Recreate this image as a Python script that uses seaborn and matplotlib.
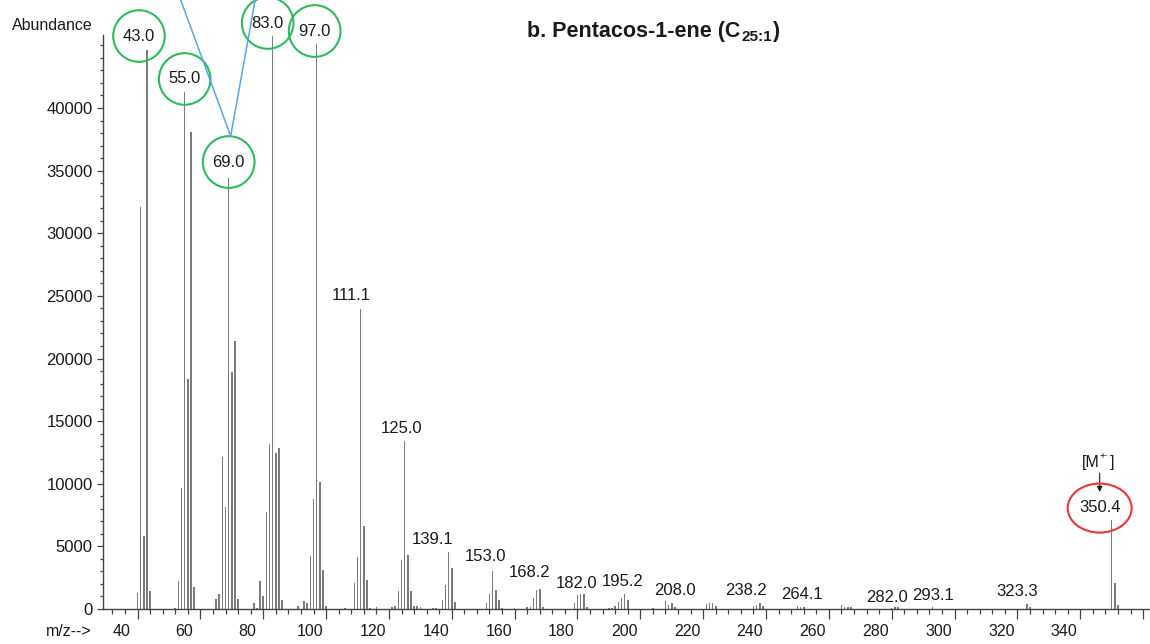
import numpy as np
import pandas as pd
import matplotlib
matplotlib.use("Agg")
import matplotlib.pyplot as plt
import seaborn as sns
from matplotlib.patches import Ellipse
from matplotlib.lines import Line2D
from matplotlib.transforms import IdentityTransform, ScaledTranslation, offset_copy

# peak list
mz = [40, 41, 42, 43, 44,
      52, 53, 54, 55, 56, 57, 58,
      65, 66, 67, 68, 69, 70, 71, 72,
      77, 78, 79, 80, 81, 82, 83, 84, 85, 86,
      91, 93, 94, 95, 96, 97, 98, 99, 100,
      106, 109, 110, 111, 112, 113, 114, 116,
      121, 122, 123, 124, 125, 126, 127, 128, 129, 130,
      134, 135, 137, 138, 139, 140, 141,
      151, 152, 153, 154, 155, 156,
      160, 164, 165, 166, 167, 168, 169,
      179, 180, 181, 182, 183,
      190, 191, 192, 193, 194, 195, 196,
      204, 208, 209, 210, 211,
      221, 222, 223, 224,
      236, 237, 238, 239,
      250, 251, 252,
      264, 265, 266, 267,
      280, 281, 282,
      293,
      323, 324,
      350, 351, 352]
abundance = [1280, 32100, 5840, 44630, 1440,
             80, 2200, 9700, 41280, 18400, 38080, 1790,
             830, 1230, 12100, 8160, 34410, 18960, 21360, 830,
             510, 80, 2260, 1040, 7760, 13200, 45750, 12450, 12850, 720,
             240, 620, 450, 4210, 8770, 45110, 10160, 3100, 240,
             100, 2070, 4150, 23950, 6600, 2350, 80, 150,
             150, 250, 1400, 3950, 13410, 4280, 1400, 250, 220, 150,
             100, 100, 680, 1950, 4590, 3250, 580,
             500, 1200, 3000, 1550, 700, 100,
             80, 150, 150, 850, 1500, 1600, 180,
             450, 1100, 1200, 1200, 160,
             80, 100, 250, 560, 880, 1200, 720,
             80, 600, 320, 500, 150,
             400, 500, 450, 200,
             250, 350, 500, 200,
             250, 150, 180,
             350, 150, 150, 120,
             100, 150, 120,
             150,
             380, 150,
             7100, 2100, 300]

peak_labels = ["43.0", "55.0", "69.0", "83.0", "97.0", "111.1", "125.0", "139.1",
               "153.0", "168.2", "182.0", "195.2", "208.0", "238.2", "264.1",
               "282.0", "293.1", "323.3", "350.4"]
circled = ["43.0", "55.0", "69.0", "83.0", "97.0"]
mol_ion = "350.4"

# label placement (pixels from the peak top)
label_dx = [-8, 0, 0, -5, -2, -9, -3, -16, -7, -10, -7, -2, 9, -14, -39, -11, 0, -10, -12]
label_dy = [13, 12, 15, 12, 12, 13, 12, 11, 14, 15, 9, 11, 10, 11, 9, 9, 11, 12, 12]

df = pd.DataFrame({"mz": mz, "abundance": abundance})
lookup = dict(zip(mz, abundance))

sns.set_style("ticks")
plt.rcParams["font.family"] = ["Liberation Sans", "DejaVu Sans"]
plt.rcParams["mathtext.fontset"] = "custom"
plt.rcParams["mathtext.rm"] = "Liberation Sans"
plt.rcParams["mathtext.bf"] = "Liberation Sans:bold"

ink = "#1a1a1a"
axis_col = "#444444"

fig = plt.figure(figsize=(11.5, 6.44), dpi=100)
ax = fig.add_axes([103 / 1150, 1 - 609 / 644, 1 - 103 / 1150, (609 - 35) / 644])

sns.histplot(data=df, x="mz", weights="abundance", discrete=True, shrink=0.5,
             color="#7c7c7c", alpha=1, linewidth=0, ax=ax)

ax.set_xlim(29.0, 362.2)
ax.set_ylim(0, 45830)
ax.set_xlabel("")
ax.set_ylabel("")

ax.set_xticks(np.arange(40, 361, 20))
ax.set_xticks(np.arange(32, 362, 4), minor=True)
ax.set_xticklabels([str(v) if v <= 340 else "" for v in range(40, 361, 20)])
ax.set_yticks(np.arange(0, 40001, 5000))
ax.set_yticks(np.arange(0, 45001, 1000), minor=True)
ax.set_yticklabels([str(v) for v in range(0, 40001, 5000)])

ax.tick_params(axis="x", which="major", direction="out", length=7, width=0.9,
               color=axis_col, pad=3.5, labelsize=11.5, labelcolor=ink)
ax.tick_params(axis="x", which="minor", direction="out", length=3.5, width=0.9, color=axis_col)
ax.tick_params(axis="y", which="major", direction="out", length=4, width=0.9,
               color=axis_col, pad=3.5, labelsize=12, labelcolor=ink)
ax.tick_params(axis="y", which="minor", direction="out", length=2.5, width=0.9, color=axis_col)

# tick labels sit a little left of their ticks in the original
shift = ScaledTranslation(-16 / 100, 0, fig.dpi_scale_trans)
for lbl in ax.get_xticklabels():
    lbl.set_transform(lbl.get_transform() + shift)

sns.despine(ax=ax)
for side in ["left", "bottom"]:
    ax.spines[side].set_color(axis_col)
    ax.spines[side].set_linewidth(1.0)

fig.text(93 / 1150, 1 - 25 / 644, "Abundance", ha="right", va="center", fontsize=11.5, color=ink)
fig.text(92 / 1150, 1 - 631 / 644, "m/z-->", ha="right", va="center", fontsize=11.5, color=ink)

# peak labels
green = "#2dbb5d"
centers = {}
for s, dx, dy in zip(peak_labels, label_dx, label_dy):
    m = int(round(float(s)))
    h = lookup[m]
    kw = {}
    if s in circled:
        kw["bbox"] = dict(boxstyle="circle,pad=0.58", fc="none", ec=green, lw=1.5)
    ax.annotate(s, xy=(m, h), xytext=(dx, dy + 1), textcoords="offset pixels",
                ha="center", va="center", fontsize=12, color=ink,
                annotation_clip=False, **kw)
    px, py = ax.transData.transform((m, h))
    centers[s] = (px + dx, py + dy)

# blue guide lines pointing at the 69.0 circle
vx, vy = centers["69.0"][0] + 2, centers["69.0"][1] + 27
for ex in (-49, 24):
    fig.add_artist(Line2D([vx + ex * 1.2, vx], [vy + 160, vy], transform=IdentityTransform(),
                          color="#5aa6e0", lw=1.1))

# molecular ion: red ellipse, arrow and [M+.] tag
cx, cy = centers[mol_ion]
fig.add_artist(Ellipse((cx, cy), 64, 49, transform=IdentityTransform(),
                       fill=False, ec="#e53935", lw=1.5))
m_ion = int(round(float(mol_ion)))
h_ion = lookup[m_ion]
base = offset_copy(ax.transData, fig=fig, x=-12, y=28, units="dots")
ax.annotate("", xy=(m_ion, h_ion), xycoords=base, xytext=(0, 19), textcoords="offset pixels",
            arrowprops=dict(arrowstyle="-|>", color=ink, lw=0.8, mutation_scale=8,
                            shrinkA=0, shrinkB=0), annotation_clip=False)
tag = ax.annotate("[M", xy=(m_ion, h_ion), xytext=(-30, 53), textcoords="offset pixels",
                  ha="left", va="baseline", fontsize=11.5, color=ink, annotation_clip=False)
sup = ax.annotate("+\u00b7", xy=(1, 0), xycoords=tag, xytext=(0.3, 6.5), textcoords="offset points",
                  ha="left", va="bottom", fontsize=7.5, color=ink, annotation_clip=False)
ax.annotate("]", xy=(1, 0), xycoords=(sup, tag), xytext=(0.3, 0), textcoords="offset points",
            ha="left", va="bottom", fontsize=11.5, color=ink, annotation_clip=False)

# title with subscript
t1 = fig.text(527 / 1150, 1 - 36.7 / 644, "b. Pentacos-1-ene (C", fontsize=15.5,
              weight="bold", ha="left", va="baseline", color=ink)
t2 = ax.annotate("25:1", xy=(1, 0), xycoords=t1, xytext=(0.5, 0.5), textcoords="offset points",
                 fontsize=11, weight="bold", ha="left", va="baseline", color=ink,
                 annotation_clip=False)
ax.annotate(")", xy=(1, 0), xycoords=(t2, t1), xytext=(0.5, 0), textcoords="offset points",
            fontsize=15.5, weight="bold", ha="left", va="bottom", color=ink,
            annotation_clip=False)

fig.savefig("out.png", dpi=100, facecolor="white")
